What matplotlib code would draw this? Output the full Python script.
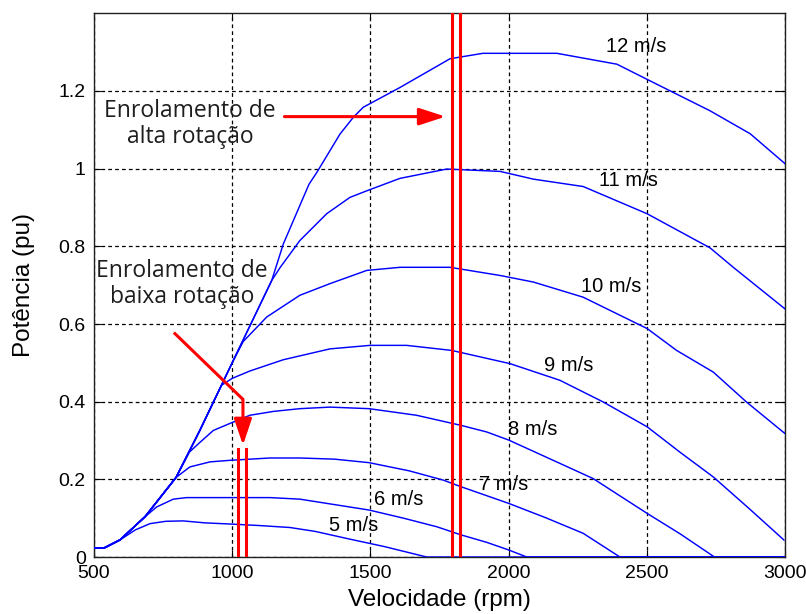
import matplotlib
matplotlib.use("Agg")
import matplotlib.pyplot as plt

# shared start of every curve (rising part)
rise_rpm = [500, 536, 594, 685, 797]
rise_pu = [0.023, 0.023, 0.044, 0.104, 0.205]

rpm_5 = [500, 536, 594, 650, 703, 760, 823, 900, 992, 1100, 1209, 1300, 1426, 1550, 1704, 3000]
pu_5 = [0.023, 0.023, 0.044, 0.070, 0.086, 0.092, 0.093, 0.088, 0.085, 0.081, 0.076, 0.066, 0.046, 0.027, 0.0, 0.0]

rpm_6 = [500, 536, 594, 685, 727, 787, 835, 1000, 1137, 1245, 1370, 1495, 1620, 1740, 1828, 1920, 2001, 2066, 3000]
pu_6 = [0.023, 0.023, 0.044, 0.104, 0.129, 0.149, 0.153, 0.153, 0.153, 0.149, 0.135, 0.121, 0.100, 0.078, 0.057, 0.038, 0.018, 0.0, 0.0]

rpm_7 = rise_rpm + [847, 920, 992, 1137, 1245, 1370, 1495, 1640, 1764, 1828, 2001, 2135, 2270, 2403, 3000]
pu_7 = rise_pu + [0.232, 0.245, 0.249, 0.255, 0.255, 0.252, 0.243, 0.222, 0.198, 0.181, 0.138, 0.101, 0.061, 0.0, 0.0]

rpm_8 = rise_rpm + [845, 883, 932, 992, 1064, 1150, 1245, 1354, 1495, 1667, 1828, 1921, 2001, 2186, 2306, 2502, 2620, 2745, 3000]
pu_8 = rise_pu + [0.27, 0.295, 0.326, 0.344, 0.365, 0.375, 0.382, 0.386, 0.382, 0.365, 0.339, 0.322, 0.301, 0.241, 0.202, 0.112, 0.06, 0.0, 0.0]

rpm_9 = rise_rpm + [883, 961, 1000, 1064, 1185, 1354, 1499, 1631, 1794, 2005, 2186, 2343, 2502, 2620, 2741, 2870, 2996]
pu_9 = rise_pu + [0.326, 0.442, 0.46, 0.479, 0.508, 0.536, 0.545, 0.545, 0.532, 0.498, 0.455, 0.399, 0.335, 0.27, 0.206, 0.125, 0.044]

rpm_10 = rise_rpm + [883, 961, 1004, 1040, 1125, 1245, 1354, 1487, 1607, 1788, 1969, 2090, 2270, 2502, 2608, 2741, 2861, 3000]
pu_10 = rise_pu + [0.326, 0.442, 0.506, 0.555, 0.618, 0.674, 0.704, 0.738, 0.746, 0.746, 0.725, 0.708, 0.669, 0.588, 0.532, 0.476, 0.399, 0.318]

rpm_11 = rise_rpm + [883, 961, 1004, 1064, 1143, 1173, 1245, 1342, 1426, 1487, 1607, 1776, 1969, 2090, 2270, 2501, 2729, 2813, 3000]
pu_11 = rise_pu + [0.326, 0.442, 0.506, 0.595, 0.712, 0.745, 0.815, 0.884, 0.926, 0.943, 0.975, 0.999, 0.993, 0.973, 0.954, 0.884, 0.796, 0.746, 0.639]

rpm_12 = rise_rpm + [883, 961, 1004, 1064, 1143, 1185, 1278, 1306, 1390, 1438, 1474, 1607, 1788, 1907, 2175, 2392, 2501, 2729, 2874, 3000]
pu_12 = rise_pu + [0.326, 0.442, 0.506, 0.595, 0.712, 0.806, 0.96, 0.99, 1.089, 1.132, 1.158, 1.209, 1.283, 1.297, 1.297, 1.269, 1.23, 1.149, 1.09, 1.013]

curves = [(rpm_5, pu_5), (rpm_6, pu_6), (rpm_7, pu_7), (rpm_8, pu_8),
          (rpm_9, pu_9), (rpm_10, pu_10), (rpm_11, pu_11), (rpm_12, pu_12)]

speed_labels = ["5 m/s", "6 m/s", "7 m/s", "8 m/s", "9 m/s", "10 m/s", "11 m/s", "12 m/s"]
label_rpm = [1441, 1603, 1981, 2088, 2216, 2370, 2432, 2461]
label_pu = [0.080, 0.147, 0.186, 0.329, 0.494, 0.697, 0.970, 1.314]

high_winding_rpm = [1796, 1825]
low_winding_rpm = [1022, 1050]
low_winding_top = 0.277

fig = plt.figure(figsize=(8.06, 6.14), dpi=100)
ax = fig.add_axes([0.1166, 0.0928, 0.8573, 0.8855])

for x, y in curves:
    ax.plot(x, y, color="#0000ff", lw=1.05, zorder=3)

for s, x, y in zip(speed_labels, label_rpm, label_pu):
    ax.text(x, y, s, fontsize=14.5, family="Liberation Sans", ha="center", va="center", zorder=5)

red = "#ff0000"
for x in high_winding_rpm:
    ax.axvline(x, color=red, lw=2.2, zorder=4)
for x in low_winding_rpm:
    ax.plot([x, x], [0, low_winding_top], color=red, lw=2.2, zorder=4)

# arrows
ax.annotate("", xy=(1772, 1.134), xytext=(1189, 1.134),
            arrowprops=dict(arrowstyle="-|>,head_length=0.8,head_width=0.26", color=red, lw=2.2,
                            mutation_scale=20, shrinkA=0, shrinkB=0), zorder=6)
ax.plot([789, 1039], [0.578, 0.406], color=red, lw=2.2, zorder=6, solid_capstyle="butt")
ax.annotate("", xy=(1039, 0.288), xytext=(1039, 0.406),
            arrowprops=dict(arrowstyle="-|>,head_length=0.8,head_width=0.27", color=red, lw=2.2,
                            mutation_scale=20, shrinkA=0, shrinkB=0), zorder=6)

ax.text(847, 1.116, "Enrolamento de\nalta rotação", fontsize=16.5, family="Open Sans",
        color="#1e1e1e", ha="center", va="center", linespacing=1.12, zorder=6)
ax.text(818, 0.704, "Enrolamento de\nbaixa rotação", fontsize=16.5, family="Open Sans",
        color="#1e1e1e", ha="center", va="center", linespacing=1.12, zorder=6)

ax.set_xlim(500, 3000)
ax.set_ylim(0, 1.4)
ax.set_xticks([500, 1000, 1500, 2000, 2500, 3000])
ax.set_yticks([0, 0.2, 0.4, 0.6, 0.8, 1.0, 1.2])
ax.set_yticklabels(["0", "0.2", "0.4", "0.6", "0.8", "1", "1.2"])
ax.tick_params(direction="in", length=5, top=True, right=True, labelsize=14, pad=6)
for lab in ax.get_xticklabels() + ax.get_yticklabels():
    lab.set_family("Liberation Sans")
ax.grid(True, color="black", linestyle=(0, (3, 2.5)), lw=0.9, zorder=1)
ax.set_axisbelow(True)
for sp in ax.spines.values():
    sp.set_linewidth(1.0)
    sp.set_color("#202020")

ax.set_xlabel("Velocidade (rpm)", fontsize=17.5, family="Liberation Sans")
ax.set_ylabel("Potência (pu)", fontsize=17.5, family="Liberation Sans")
ax.xaxis.set_label_coords(0.5, -0.058)
ax.yaxis.set_label_coords(-0.0854, 0.5)

fig.savefig("out.png", dpi=100)
